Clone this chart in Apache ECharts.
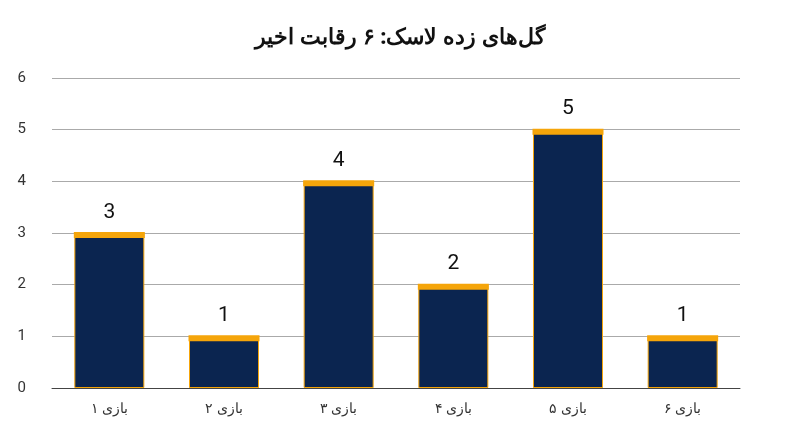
<!DOCTYPE html><html><head><meta charset="utf-8"><script src="https://cdn.jsdelivr.net/npm/echarts@6/dist/echarts.min.js"></script></head><body style="margin:0"><div id="c" style="width:800px;height:447px"></div><script>
const categories=['بازی ۱','بازی ۲','بازی ۳','بازی ۴','بازی ۵','بازی ۶'];
const goals=[3,1,4,2,5,1];
const c=echarts.init(document.getElementById('c'));
c.setOption({
title:{text:'گل‌های زده لاسک: ۶ رقابت اخیر',left:'center',top:22,textStyle:{fontFamily:'Noto Sans',fontWeight:'bold',fontSize:22,color:'#111'}},
grid:{left:52,right:60,top:78,bottom:59},
xAxis:{type:'category',data:categories,axisTick:{show:false},axisLine:{lineStyle:{color:'#444'}},axisLabel:{fontFamily:'Noto Sans',fontSize:14,color:'#333',margin:14}},
yAxis:{type:'value',min:0,max:6,interval:1,axisLabel:{fontFamily:'Roboto',fontSize:15,color:'#333',margin:26},splitLine:{lineStyle:{color:'#aaa'}}},
series:[{type:'bar',data:goals,barWidth:70,itemStyle:{color:'#0b2550',borderColor:'#f5a50a',borderWidth:1},
label:{show:true,position:'top',distance:10,fontFamily:'Roboto',fontSize:21,color:'#111'}},
{type:'scatter',data:goals,symbol:'rect',symbolSize:[71,6],symbolOffset:[0,2],itemStyle:{color:'#f5a50a',opacity:1},silent:true,z:3}]
});
</script></body></html>
